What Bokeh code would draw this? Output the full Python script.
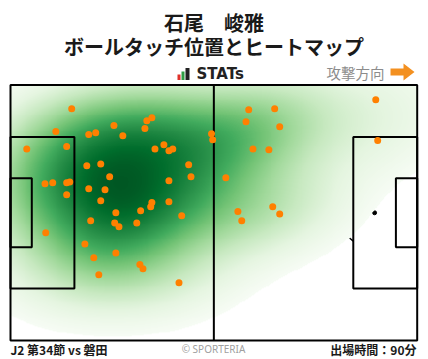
import numpy as np
from bokeh.plotting import figure
from bokeh.models import Range1d, LinearColorMapper, Label
from bokeh.palettes import Greens256
from bokeh.embed import file_html
from bokeh.resources import INLINE

# ---------------- data ----------------
title_line1 = "石尾　峻雅"
title_line2 = "ボールタッチ位置とヒートマップ"
direction_label = "攻撃方向"
brand_label = "STATs"
footer_left = "J2 第34節 vs 磐田"
footer_center = "© SPORTERIA"
footer_right = "出場時間：90分"

# ball-touch positions on a 105 x 68 m pitch (attacking to the right)
touch_x = [15.8, 11.7, 4.2, 14.5, 20.2, 22.0, 26.7, 29.0, 35.2, 36.5,
           34.7, 39.6, 37.3, 40.9, 41.9, 51.9, 52.2, 19.7, 23.3, 25.6,
           46.0, 46.6, 8.9, 10.9, 14.5, 15.3, 14.5, 20.2, 24.4, 40.9,
           23.3, 27.2, 33.6, 36.2, 36.5, 40.9, 44.2, 20.7, 26.9, 28.0,
           32.6, 9.1, 19.2, 21.5, 27.2, 33.4, 34.2, 22.8, 43.5, 94.3,
           61.5, 68.2, 60.8, 69.5, 62.6, 66.7, 94.8, 55.6, 58.7, 67.7,
           69.5, 59.7]
touch_y = [61.7, 55.6, 51.0, 51.6, 54.8, 55.3, 57.2, 54.5, 58.5, 59.3,
           56.4, 52.1, 51.0, 50.5, 51.0, 55.0, 53.4, 46.5, 47.0, 43.6,
           46.8, 43.6, 41.7, 42.0, 42.0, 42.2, 38.8, 40.4, 40.1, 42.5,
           37.2, 34.0, 34.5, 35.6, 36.7, 36.9, 33.2, 31.9, 31.3, 30.3,
           31.3, 28.7, 25.7, 22.0, 23.3, 20.2, 19.1, 17.5, 15.4, 64.1,
           61.4, 61.7, 58.2, 56.9, 51.0, 50.8, 53.2, 43.3, 34.3, 35.6,
           33.7, 31.9]

# ---------------- layout ----------------
PITCH_L, PITCH_W = 105.0, 68.0
W, H = 428, 359
PX0, PX1 = 10.0, 416.7     # pitch edges in page px
PY0, PY1 = 84.5, 340.0
SX = (PX1 - PX0) / PITCH_L
SY = (PY1 - PY0) / PITCH_W


def dx(page_x):
    return (page_x - PX0) / SX


def dy(page_y):
    return (PY1 - page_y) / SY


p = figure(width=W, height=H, output_backend="svg", toolbar_location=None,
           x_range=Range1d(dx(0), dx(W)), y_range=Range1d(dy(H), dy(0)),
           x_axis_location=None, y_axis_location=None, min_border=0)
p.grid.visible = False
p.outline_line_color = None
p.background_fill_color = "white"

LW = 2
# ---- markings beneath the heatmap ----
cx, cy = PITCH_L / 2, PITCH_W / 2
t = np.linspace(0, 2 * np.pi, 200)
p.line(cx + 9.15 * np.cos(t), cy + 9.15 * np.sin(t) * SX / SY, line_color="black", line_width=LW)
th = np.arccos(5.5 / 9.15)
ta = np.linspace(-th, th, 60)
p.line(11 + 9.15 * np.cos(ta), cy + 9.15 * np.sin(ta) * SX / SY, line_color="black", line_width=1.5)
p.line(94 - 9.15 * np.cos(ta), cy + 9.15 * np.sin(ta) * SX / SY, line_color="black", line_width=1.5)
p.scatter([11, 94, cx], [cy, cy, cy], size=4, color="black")

# ---- heatmap (gaussian kde of touches) ----
BW = 0.66
pts = np.vstack([touch_x, touch_y])
cov = np.cov(pts) * BW ** 2
inv = np.linalg.inv(cov)
gx = np.linspace(0, PITCH_L, 420)
gy = np.linspace(0, PITCH_W, 272)
X, Y = np.meshgrid(gx, gy)
D = np.zeros_like(X)
for tx, ty in zip(touch_x, touch_y):
    ax_ = X - tx
    ay_ = Y - ty
    D += np.exp(-0.5 * (inv[0, 0] * ax_ ** 2 + 2 * inv[0, 1] * ax_ * ay_ + inv[1, 1] * ay_ ** 2))
D = D / D.max()
thr = 0.025
GAMMA = 0.82
shade = np.where(D < thr, np.nan, (D - thr) ** GAMMA)
pal = list(reversed(Greens256))
cmap = LinearColorMapper(palette=pal, low=0, high=(1 - thr) ** GAMMA / 0.94,
                         nan_color="#00000000", low_color="#00000000")
p.image(image=[shade], x=0, y=0, dw=PITCH_L, dh=PITCH_W, color_mapper=cmap)

# ---- markings on top ----
p.quad(left=0, right=PITCH_L, bottom=0, top=PITCH_W, fill_color=None, line_color="black", line_width=LW)
p.segment(x0=[cx], y0=[0], x1=[cx], y1=[PITCH_W], line_color="black", line_width=LW)
p.quad(left=[0, PITCH_L - 16.5], right=[16.5, PITCH_L], bottom=[cy - 20.16] * 2, top=[cy + 20.16] * 2,
       fill_color=None, line_color="black", line_width=LW)
p.quad(left=[0, PITCH_L - 5.5], right=[5.5, PITCH_L], bottom=[cy - 9.16] * 2, top=[cy + 9.16] * 2,
       fill_color=None, line_color="black", line_width=LW)

# ---- touches ----
p.scatter(touch_x, touch_y, size=7, fill_color="#ff8000", line_color=None)

# ---- titles ----
CJK = "Noto Sans CJK JP"
p.add_layout(Label(x=dx(213.5), y=dy(22), text=title_line1, text_align="center", text_baseline="middle",
                   text_font=CJK, text_font_style="bold", text_font_size="20px", text_color="#1a1a1a"))
p.add_layout(Label(x=dx(213.5), y=dy(46), text=title_line2, text_align="center", text_baseline="middle",
                   text_font=CJK, text_font_style="bold", text_font_size="20px", text_color="#1a1a1a"))

# STATs logo
p.quad(left=[dx(177), dx(181), dx(185)], right=[dx(180), dx(184), dx(189)],
       bottom=[dy(79.5)] * 3, top=[dy(74), dy(71), dy(67.5)],
       fill_color=["#e0312a", "#2f9e44", "#222222"], line_color=None)
p.add_layout(Label(x=dx(196), y=dy(73.5), text=brand_label, text_align="left", text_baseline="middle",
                   text_font="DejaVu Sans", text_font_style="bold", text_font_size="15px", text_color="#222222"))

# attack direction
p.add_layout(Label(x=dx(384), y=dy(72), text=direction_label, text_align="right", text_baseline="middle",
                   text_font=CJK, text_font_size="14.5px", text_color="#8c8c8c"))
ax_pts = [390, 403, 403, 414, 403, 403, 390]
ay_pts = [68, 68, 63, 71.5, 80, 75, 75]
p.patch([dx(v) for v in ax_pts], [dy(v) for v in ay_pts], fill_color="#f39020", line_color=None)

# footer
p.add_layout(Label(x=dx(10), y=dy(348.5), text=footer_left, text_align="left", text_baseline="middle",
                   text_font=CJK, text_font_style="bold", text_font_size="12px", text_color="#1a1a1a"))
p.add_layout(Label(x=dx(213), y=dy(348), text=footer_center, text_align="center", text_baseline="middle",
                   text_font="Noto Sans", text_font_size="10px", text_color="#a0a0a0"))
p.add_layout(Label(x=dx(416), y=dy(348.5), text=footer_right, text_align="right", text_baseline="middle",
                   text_font=CJK, text_font_style="bold", text_font_size="12px", text_color="#1a1a1a"))

open("out.html", "w").write(file_html(p, INLINE))
